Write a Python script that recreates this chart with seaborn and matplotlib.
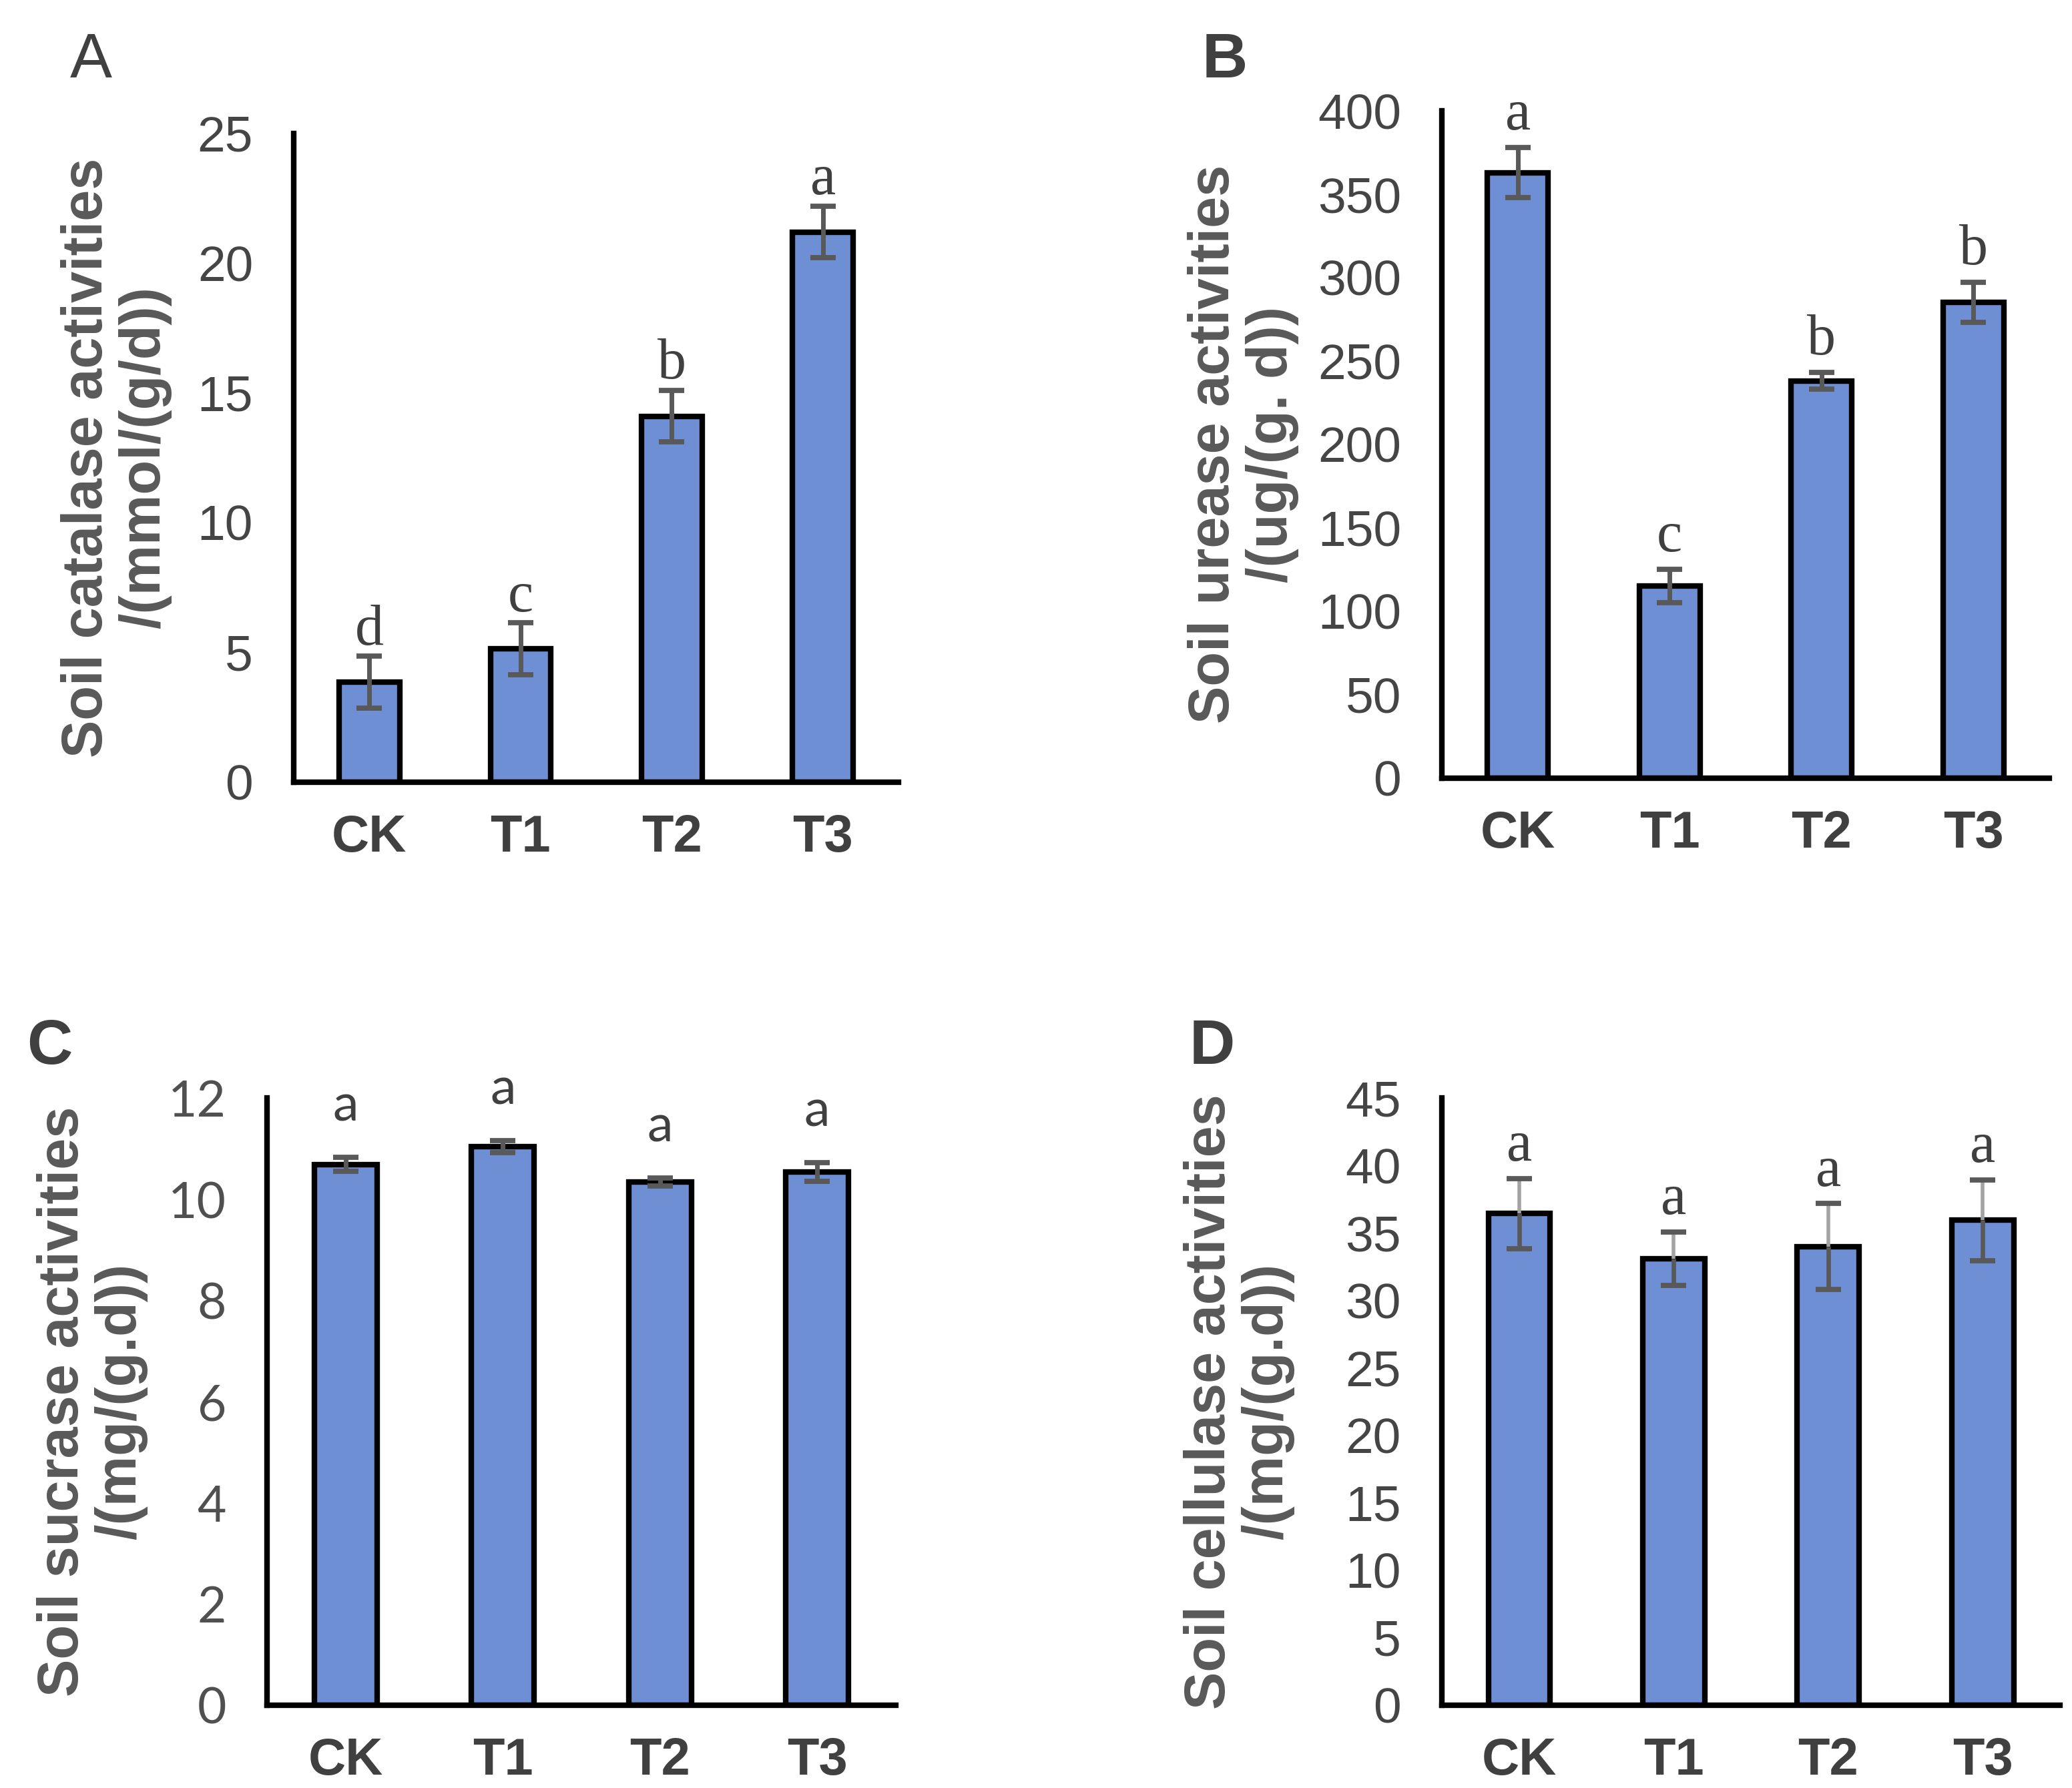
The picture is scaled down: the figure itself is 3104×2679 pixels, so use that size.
import numpy as np
import pandas as pd
import seaborn as sns
import matplotlib
matplotlib.use("Agg")
import matplotlib.pyplot as plt

# ---------------- data ----------------
categories = ["CK", "T1", "T2", "T3"]

catalase = [3.85, 5.13, 14.1, 21.2]
catalase_err = [1.0, 1.0, 1.0, 1.0]
catalase_letters = ["d", "c", "b", "a"]

urease = [363, 115, 238, 285]
urease_err = [15, 10, 5, 12]
urease_letters = ["a", "c", "b", "b"]

sucrase = [10.69, 11.04, 10.34, 10.54]
sucrase_err = [0.14, 0.12, 0.08, 0.18]
sucrase_letters = ["a", "a", "a", "a"]

cellulase = [36.45, 33.1, 34.0, 35.95]
cellulase_err = [2.6, 2.0, 3.2, 3.0]
cellulase_letters = ["a", "a", "a", "a"]

sns.set_theme(style="white")
plt.rcParams["font.family"] = ["Liberation Sans", "DejaVu Sans"]

BAR = "#6F8FD4"
ERR = "#595959"
LABEL = "#595959"
DARK = "#404040"

fig = plt.figure(figsize=(15.52, 13.395), dpi=200)

panels = [
    dict(name="A", vals=catalase, errs=catalase_err, letters=catalase_letters,
         ymax=25, step=5, off=0.45, pos=[0.1418, 0.5627, 0.2918, 0.3627],
         ylabel="Soil catalase activities\n/(mmol/(g/d))", lx=-0.294,
         tag=(0.044, 0.966), tagw="normal", tickfont="Liberation Sans",
         tickcolor="#454545", letterfont="Liberation Serif", lsize=31,
         upper_light=False),
    dict(name="B", vals=urease, errs=urease_err, letters=urease_letters,
         ymax=400, step=50, off=11, pos=[0.6959, 0.5649, 0.2931, 0.3731],
         ylabel="Soil urease activities\n/(ug/(g. d))", lx=-0.327,
         tag=(0.591, 0.966), tagw="bold", tickfont="Liberation Sans",
         tickcolor="#454545", letterfont="Liberation Serif", lsize=31,
         upper_light=False),
    dict(name="C", vals=sucrase, errs=sucrase_err, letters=sucrase_letters,
         ymax=12, step=2, off=0.72, pos=[0.1289, 0.0463, 0.3034, 0.3395],
         ylabel="Soil sucrase activities\n/(mg/(g.d))", lx=-0.278,
         tag=(0.024, 0.414), tagw="bold", tickfont="Lato",
         tickcolor="#505050", letterfont="Lato", lsize=28,
         upper_light=False),
    dict(name="D", vals=cellulase, errs=cellulase_err, letters=cellulase_letters,
         ymax=45, step=5, off=1.3, pos=[0.6959, 0.0463, 0.2983, 0.3395],
         ylabel="Soil cellulase activities\n/(mg/(g.d))", lx=-0.328,
         tag=(0.585, 0.414), tagw="bold", tickfont="Liberation Sans",
         tickcolor="#454545", letterfont="Liberation Serif", lsize=31,
         upper_light=True),
]

for p in panels:
    ax = fig.add_axes(p["pos"])
    df = pd.DataFrame({"group": categories, "value": p["vals"]})
    sns.barplot(data=df, x="group", y="value", color=BAR, width=0.4,
                edgecolor="black", linewidth=3.0, saturation=1,
                errorbar=None, ax=ax)
    xs = np.arange(len(categories))
    vals = np.array(p["vals"], dtype=float)
    errs = np.array(p["errs"], dtype=float)
    if p["upper_light"]:
        # lower half dark, upper stem lighter grey (as in the original)
        ax.errorbar(xs, vals, yerr=[errs, np.zeros_like(errs)], fmt="none",
                    ecolor=ERR, elinewidth=2.4, capsize=0, zorder=3)
        ax.vlines(xs, vals, vals + errs, color="#A3A3A3", linewidth=2.0, zorder=3)
        ax.errorbar(xs, vals, yerr=errs, fmt="none", ecolor=ERR,
                    elinewidth=0, capsize=7, capthick=2.8, zorder=4)
    else:
        ax.errorbar(xs, vals, yerr=errs, fmt="none", ecolor=ERR,
                    elinewidth=2.5, capsize=7, capthick=2.8, zorder=3)
    for x, v, e, lt in zip(xs, vals, errs, p["letters"]):
        ax.text(x, v + e + p["off"], lt, ha="center", va="baseline",
                fontsize=p["lsize"], color=DARK, family=p["letterfont"])

    ax.set_ylim(0, p["ymax"])
    ax.set_xlim(-0.5, len(categories) - 0.5)
    ax.set_yticks(np.arange(0, p["ymax"] + p["step"] / 2, p["step"]))
    ax.set_xlabel("")
    ax.set_ylabel("")
    for s in ["top", "right"]:
        ax.spines[s].set_visible(False)
    for s in ["left", "bottom"]:
        ax.spines[s].set_color("black")
        ax.spines[s].set_linewidth(3.0)
    ax.tick_params(axis="y", direction="in", length=7, width=3.0,
                   color="black", pad=22, labelsize=27, labelcolor=p["tickcolor"])
    ax.tick_params(axis="x", length=0, pad=17, labelsize=28, labelcolor=DARK)
    for lab in ax.get_yticklabels():
        lab.set_family(p["tickfont"])
    for lab in ax.get_xticklabels():
        lab.set_fontweight("bold")
    ax.text(p["lx"], 0.5, p["ylabel"], transform=ax.transAxes, rotation=90,
            ha="center", va="center", multialignment="center",
            fontsize=30.5, fontweight="bold", color=LABEL, linespacing=1.1)
    fig.text(p["tag"][0], p["tag"][1], p["name"], fontsize=34,
             fontweight=p["tagw"], color=DARK, ha="center", va="center")

fig.savefig("out.png", dpi=200, facecolor="white")
